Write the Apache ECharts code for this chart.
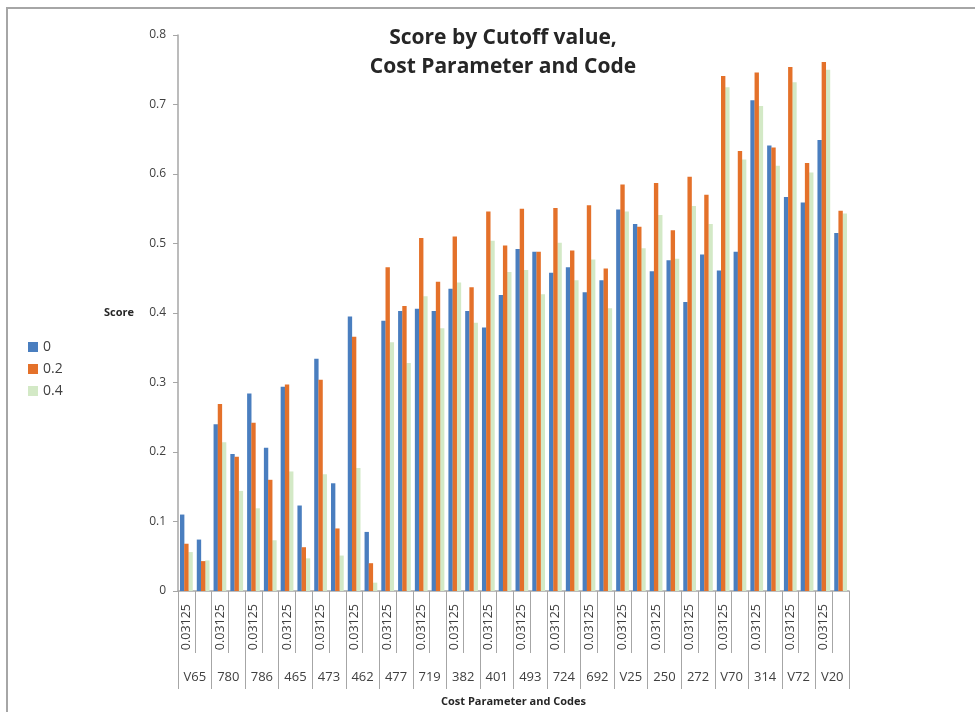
<!DOCTYPE html>
<html>
<head>
<meta charset="utf-8">
<title>Score by Cutoff value</title>
<script src="https://cdn.jsdelivr.net/npm/echarts@6/dist/echarts.min.js"></script>
<style>
  html, body { margin: 0; padding: 0; background: #fff; }
  #chart { width: 975px; height: 712px; }
</style>
</head>
<body>
<div id="chart"></div>
<script>
const codes = ['V65', '780', '786', '465', '473', '462', '477', '719', '382', '401',
  '493', '724', '692', 'V25', '250', '272', 'V70', '314', 'V72', 'V20']
// two cost parameters per code, only the first one is labelled in the source
const costParamLabels = ['0.03125', '']
const cutoffs = ['0', '0.2', '0.4']

const scoreCutoff0 = [0.110, 0.074, 0.240, 0.197, 0.284, 0.206, 0.294, 0.123, 0.334, 0.155,
  0.395, 0.085, 0.389, 0.403, 0.406, 0.403, 0.435, 0.403, 0.379, 0.426,
  0.492, 0.488, 0.458, 0.466, 0.430, 0.447, 0.549, 0.528, 0.460, 0.476,
  0.416, 0.484, 0.461, 0.488, 0.706, 0.641, 0.567, 0.559, 0.649, 0.515]
const scoreCutoff02 = [0.068, 0.043, 0.269, 0.193, 0.242, 0.160, 0.297, 0.063, 0.304, 0.090,
  0.366, 0.040, 0.466, 0.410, 0.508, 0.445, 0.510, 0.437, 0.546, 0.497,
  0.550, 0.488, 0.551, 0.490, 0.555, 0.464, 0.585, 0.524, 0.587, 0.519,
  0.596, 0.570, 0.741, 0.633, 0.746, 0.638, 0.754, 0.616, 0.761, 0.547]
const scoreCutoff04 = [0.056, 0.044, 0.214, 0.144, 0.119, 0.073, 0.172, 0.047, 0.168, 0.051,
  0.177, 0.012, 0.358, 0.328, 0.424, 0.378, 0.444, 0.386, 0.504, 0.459,
  0.462, 0.427, 0.501, 0.447, 0.477, 0.407, 0.546, 0.493, 0.541, 0.478,
  0.554, 0.528, 0.725, 0.621, 0.698, 0.612, 0.732, 0.602, 0.750, 0.543]

const colors = ['#4a7ebf', '#e4712a', '#d3e9c6']
const axisGray = '#a6a6a6'
const textColor = '#404040'
const font = 'Open Sans'

const subCategories = []
codes.forEach(code => {
  costParamLabels.forEach((p, i) => subCategories.push(code + '#' + i))
})

const chart = echarts.init(document.getElementById('chart'))

function barSeries(name, data, color, z) {
  return {
    name: name,
    type: 'bar',
    data: data,
    xAxisIndex: 0,
    itemStyle: { color: color },
    barCategoryGap: '24%',
    barGap: '-4%',
    z: z,
    animation: false
  }
}

chart.setOption({
  textStyle: { fontFamily: font },
  graphic: [{
    type: 'rect',
    shape: { x: 7, y: 8, width: 1000, height: 800 },
    style: { fill: 'none', stroke: axisGray, lineWidth: 2 },
    silent: true
  }],
  title: {
    text: 'Score by Cutoff value,\nCost Parameter and Code',
    left: 498,
    top: 19,
    textAlign: 'center',
    textStyle: {
      fontFamily: font,
      fontSize: 21,
      fontWeight: 'bold',
      color: '#262626',
      lineHeight: 29
    }
  },
  legend: {
    data: cutoffs,
    orient: 'vertical',
    left: 23,
    top: 335,
    icon: 'rect',
    itemWidth: 10,
    itemHeight: 10,
    itemGap: 8,
    textStyle: { fontFamily: font, fontSize: 14, color: textColor }
  },
  grid: {
    left: 178,
    right: 126,
    top: 35,
    bottom: 117,
    containLabel: false
  },
  xAxis: [
    {
      type: 'category',
      data: subCategories,
      position: 'bottom',
      axisLine: { lineStyle: { color: axisGray, width: 1.5 } },
      axisTick: { show: true, interval: 0, length: 62, lineStyle: { color: axisGray } },
      axisLabel: {
        interval: 0,
        rotate: 90,
        margin: 13,
        fontSize: 12.5,
        color: textColor,
        formatter: (v, i) => costParamLabels[i % costParamLabels.length]
      },
      splitLine: { show: false }
    },
    {
      type: 'category',
      data: codes,
      position: 'bottom',
      axisLine: { show: false },
      axisTick: { show: true, interval: 0, length: 98, lineStyle: { color: axisGray } },
      axisLabel: { interval: 0, margin: 80, fontSize: 13, color: textColor },
      splitLine: { show: false },
      name: 'Cost Parameter and Codes',
      nameLocation: 'middle',
      nameGap: 105,
      nameTextStyle: { fontFamily: font, fontSize: 11, fontWeight: 'bold', color: '#262626' }
    }
  ],
  yAxis: {
    type: 'value',
    min: 0,
    max: 0.8,
    interval: 0.1,
    name: 'Score',
    nameLocation: 'middle',
    nameRotate: 0,
    nameGap: 44,
    nameTextStyle: { fontFamily: font, fontSize: 11, fontWeight: 'bold', color: '#262626' },
    axisLine: { show: true, lineStyle: { color: axisGray, width: 1.5 } },
    axisTick: { show: true, length: 5, lineStyle: { color: axisGray } },
    axisLabel: { margin: 12, fontSize: 12, color: textColor },
    splitLine: { show: false }
  },
  series: [
    barSeries(cutoffs[0], scoreCutoff0, colors[0], 3),
    barSeries(cutoffs[1], scoreCutoff02, colors[1], 4),
    barSeries(cutoffs[2], scoreCutoff04, colors[2], 2)
  ]
})
</script>
</body>
</html>
